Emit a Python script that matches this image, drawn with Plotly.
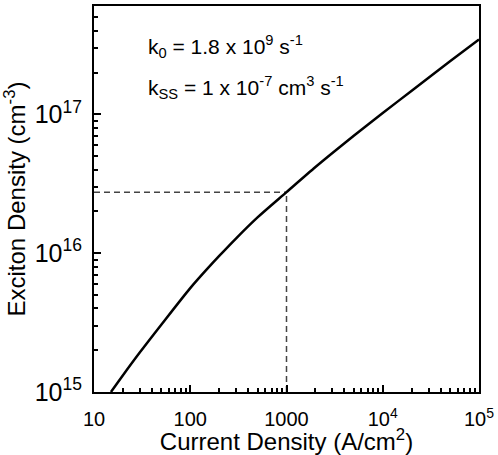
import plotly.graph_objects as go

# Data
current_density = [15, 20, 30, 50, 100, 150, 200, 300, 500, 1000, 2000, 3000, 5000,
                   10000, 20000, 50000, 100000]
exciton_density = [1.0e15, 1.32e15, 1.93e15, 3.05e15, 5.6e15, 7.7e15, 9.55e15, 1.28e16,
                   1.81e16, 2.75e16, 4.17e16, 5.26e16, 7.0e16, 1.02e17, 1.48e17, 2.41e17, 3.46e17]

marker_j = 1000
marker_n = 2.75e16
x_min = 10
y_min = 1e15

# plotly's default decade labels -> labels shown in the reference
x_default_labels = ["10k", "100k"]
x_label_text = ["10<sup>4</sup>", "10<sup>5</sup>"]

font_family = "Liberation Sans, Arial, sans-serif"
x_range = [1, 5]
y_range = [15, 17.78]

fig = go.Figure()
dash_style = dict(color="#444444", width=1.5, dash="6px,4px")
fig.add_trace(go.Scatter(x=[x_min, marker_j], y=[marker_n, marker_n], mode="lines",
                         line=dash_style, showlegend=False, hoverinfo="skip"))
fig.add_trace(go.Scatter(x=[marker_j, marker_j], y=[y_min, marker_n], mode="lines",
                         line=dash_style, showlegend=False, hoverinfo="skip"))
fig.add_trace(go.Scatter(x=current_density, y=exciton_density, mode="lines",
                         line=dict(color="black", width=2.5, shape="spline", smoothing=0.8),
                         showlegend=False))

fig.update_xaxes(type="log", range=x_range, dtick=1, ticks="inside", ticklen=7,
                 tickwidth=2, tickcolor="black", showline=True, linecolor="black",
                 linewidth=2, mirror=True, gridcolor="white", automargin=False,
                 minor=dict(ticks="inside", ticklen=4, tickwidth=1.8, tickcolor="black",
                            gridcolor="white"),
                 labelalias=dict(zip(x_default_labels, x_label_text)),
                 ticklabelstandoff=8,
                 tickfont=dict(size=20, color="black", family=font_family),
                 title=dict(text="Current Density (A/cm<sup>2</sup>)",
                            font=dict(size=24, color="black", family=font_family),
                            standoff=2))
fig.update_yaxes(type="log", range=y_range, dtick=1, ticks="inside", ticklen=7,
                 tickwidth=2, tickcolor="black", showline=True, linecolor="black",
                 linewidth=2, mirror=True, gridcolor="white", automargin=False,
                 minor=dict(ticks="inside", ticklen=4, tickwidth=1.8, tickcolor="black",
                            gridcolor="white"),
                 exponentformat="power", ticklabelstandoff=6,
                 tickfont=dict(size=20, color="black", family=font_family),
                 title=dict(text="Exciton Density (cm<sup>-3</sup>)",
                            font=dict(size=24, color="black", family=font_family),
                            standoff=4))

fig.add_annotation(xref="paper", yref="paper", x=0.135, y=0.895, xanchor="left",
                   yanchor="middle", showarrow=False,
                   text="k<sub>0</sub> = 1.8 x 10<sup>9</sup> s<sup>-1</sup>",
                   font=dict(size=21, color="black", family=font_family))
fig.add_annotation(xref="paper", yref="paper", x=0.135, y=0.79, xanchor="left",
                   yanchor="middle", showarrow=False,
                   text="k<sub>SS</sub> = 1 x 10<sup>-7</sup> cm<sup>3</sup> s<sup>-1</sup>",
                   font=dict(size=21, color="black", family=font_family))

fig.update_layout(width=498, height=455, margin=dict(l=94, r=19, t=6, b=63),
                  paper_bgcolor="white", plot_bgcolor="white",
                  font=dict(family=font_family, color="black"))

fig.write_html("out.html", post_script="document.body.style.margin='0px';",
               config={"displayModeBar": False})
